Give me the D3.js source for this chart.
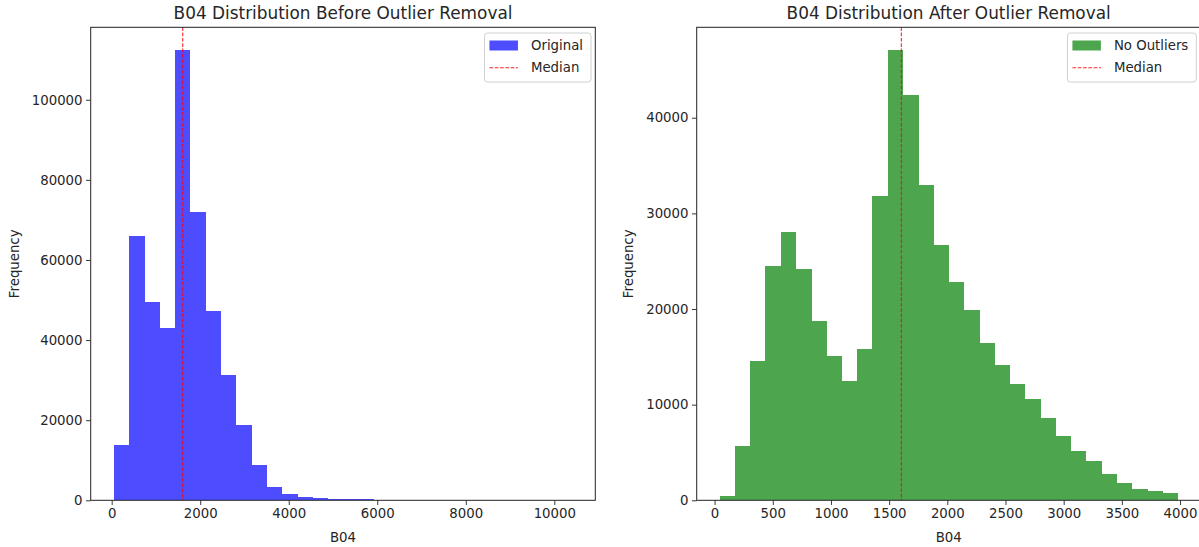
<!DOCTYPE html>
<html>
<head>
<meta charset="utf-8">
<script src="https://cdn.jsdelivr.net/npm/d3@7"></script>
<style>
  body { margin: 0; background: #fff; }
  svg text { font-family: "DejaVu Sans", sans-serif; fill: #262626; }
</style>
</head>
<body>
<div class="figure"></div>
<script>
// histogram data (30 bins each)
const beforeRange = [44, 10408];
const beforeCounts = [13870, 66000, 49600, 43000, 112470, 71900, 47280, 31170, 18750, 8800,
  3400, 1500, 750, 570, 330, 260, 200, 150, 60, 40,
  25, 15, 10, 8, 5, 4, 3, 2, 1, 2];
const afterRange = [43, 3980];
const afterCounts = [420, 5700, 14580, 24540, 28090, 24230, 18720, 15100, 12460, 15770,
  31810, 47100, 42400, 32930, 26660, 22800, 19910, 16400, 14130, 12110,
  10580, 8560, 6750, 5150, 4070, 2710, 1840, 1210, 970, 730];
const medianValue = 1605;

const beforeXTicks = [0, 2000, 4000, 6000, 8000, 10000];
const beforeYTicks = [0, 20000, 40000, 60000, 80000, 100000];
const afterXTicks = [0, 500, 1000, 1500, 2000, 2500, 3000, 3500, 4000];
const afterYTicks = [0, 10000, 20000, 30000, 40000];

const svg = d3.select('.figure')
  .append('svg')
  .attr('width', 1199)
  .attr('height', 547);

const plotTop = 27.3, plotBottom = 500.3;

const drawHist = (props) => {
  const { left, right, range, counts, xTicks, yTicks, color, title, label } = props;

  const n = counts.length;
  const step = (range[1] - range[0]) / n;
  const bins = counts.map((c, i) => ({ x0: range[0] + i * step, x1: range[0] + (i + 1) * step, count: c }));
  const pad = (range[1] - range[0]) * 0.05;

  const x = d3.scaleLinear()
    .domain([range[0] - pad, range[1] + pad])
    .range([left, right]);
  const y = d3.scaleLinear()
    .domain([0, d3.max(counts) * 1.05])
    .range([plotBottom, plotTop]);

  const g = svg.append('g');

  // bars (colour already blended at 0.7 alpha over white, so no seams)
  g.selectAll('rect.bar')
    .data(bins)
    .enter().append('rect')
      .attr('class', 'bar')
      .attr('x', d => x(d.x0))
      .attr('width', d => x(d.x1) - x(d.x0) + 0.4)
      .attr('y', d => y(d.count))
      .attr('height', d => plotBottom - y(d.count))
      .attr('fill', color)
      .attr('shape-rendering', 'crispEdges');

  // median line
  g.append('line')
    .attr('x1', x(medianValue)).attr('x2', x(medianValue))
    .attr('y1', plotTop).attr('y2', plotBottom)
    .attr('stroke', 'red')
    .attr('stroke-opacity', 0.85)
    .attr('stroke-width', 1.1)
    .attr('stroke-dasharray', '3.7,1.6');

  // axes
  const xAxis = d3.axisBottom(x).tickValues(xTicks).tickSize(4.7).tickPadding(3.5).tickFormat(d => d);
  const yAxis = d3.axisLeft(y).tickValues(yTicks).tickSize(4.7).tickPadding(3.5).tickFormat(d => d);

  const xg = g.append('g').attr('transform', `translate(0, ${plotBottom})`).call(xAxis);
  const yg = g.append('g').attr('transform', `translate(${left}, 0)`).call(yAxis);
  [xg, yg].forEach(a => {
    a.select('.domain').remove();
    a.selectAll('.tick line').attr('stroke', '#222').attr('stroke-width', 0.9);
    a.selectAll('.tick text').attr('font-size', 13.3).attr('fill', '#262626');
  });
  xg.selectAll('.tick text').attr('dy', '0.71em');

  // frame
  g.append('rect')
    .attr('x', left).attr('y', plotTop)
    .attr('width', right - left).attr('height', plotBottom - plotTop)
    .attr('fill', 'none')
    .attr('stroke', '#222')
    .attr('stroke-width', 1);

  g.append('text')
    .attr('x', (left + right) / 2).attr('y', 18.5)
    .attr('text-anchor', 'middle')
    .attr('font-size', 16.9)
    .text(title);

  g.append('text')
    .attr('x', (left + right) / 2).attr('y', 542)
    .attr('text-anchor', 'middle')
    .attr('font-size', 13.3)
    .text('B04');

  // y label sits beside the widest tick label, like matplotlib
  const labelW = d3.max(yg.selectAll('.tick text').nodes(), nd => nd.getComputedTextLength());
  g.append('text')
    .attr('transform', `translate(${left - labelW - 21}, ${(plotTop + plotBottom) / 2}) rotate(-90)`)
    .attr('text-anchor', 'middle')
    .attr('font-size', 13.3)
    .text('Frequency');

  // legend
  const legend = g.append('g');
  const box = legend.append('rect')
    .attr('fill', '#fff').attr('fill-opacity', 0.8)
    .attr('stroke', '#d0d0d0').attr('stroke-width', 1)
    .attr('rx', 3);
  const t1 = legend.append('text').attr('font-size', 13.3).text(label);
  const t2 = legend.append('text').attr('font-size', 13.3).text('Median');
  const tw = Math.max(t1.node().getComputedTextLength(), t2.node().getComputedTextLength());
  const bw = 46.5 + tw + 8;
  const bx = right - 4.3 - bw;
  const by = 33;
  box.attr('x', bx).attr('y', by).attr('width', bw).attr('height', 49);
  legend.append('rect')
    .attr('x', bx + 5).attr('y', by + 7.5)
    .attr('width', 28.5).attr('height', 10)
    .attr('fill', color);
  legend.append('line')
    .attr('x1', bx + 5).attr('x2', bx + 33.5)
    .attr('y1', by + 34.7).attr('y2', by + 34.7)
    .attr('stroke', 'red').attr('stroke-opacity', 0.85)
    .attr('stroke-width', 1.1)
    .attr('stroke-dasharray', '3.7,1.6');
  t1.attr('x', bx + 46.5).attr('y', by + 17.2);
  t2.attr('x', bx + 46.5).attr('y', by + 39.2);
};

drawHist({
  left: 90.7, right: 595.3,
  range: beforeRange, counts: beforeCounts,
  xTicks: beforeXTicks, yTicks: beforeYTicks,
  color: '#4d4dff',
  title: 'B04 Distribution Before Outlier Removal',
  label: 'Original'
});

drawHist({
  left: 696.7, right: 1200.6,
  range: afterRange, counts: afterCounts,
  xTicks: afterXTicks, yTicks: afterYTicks,
  color: '#4da64d',
  title: 'B04 Distribution After Outlier Removal',
  label: 'No Outliers'
});
</script>
</body>
</html>
